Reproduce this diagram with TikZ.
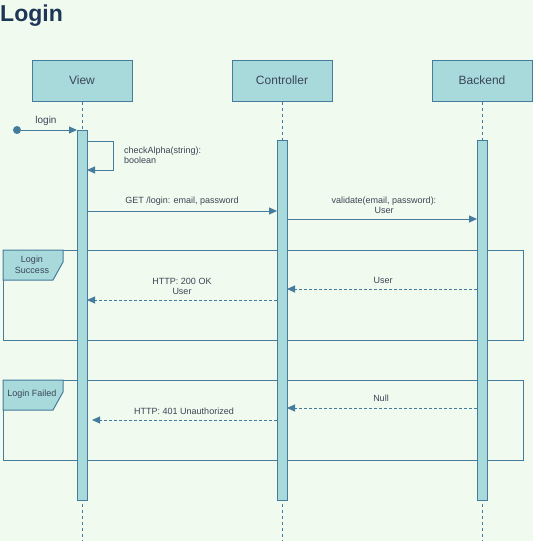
\documentclass[tikz,border=0pt]{standalone}
\usepackage{fontspec}
\setmainfont{Liberation Sans}
\usetikzlibrary{arrows.meta}
\definecolor{bg}{HTML}{F1FAEE}
\definecolor{boxfill}{HTML}{A8DADC}
\definecolor{stroke}{HTML}{457B9D}
\definecolor{titlec}{HTML}{1D3557}
\definecolor{txt}{HTML}{3A4555}
\begin{document}
\begin{tikzpicture}[x=1pt,y=-1pt,
  head/.style={draw=stroke,fill=boxfill,line width=1pt,minimum width=100pt,minimum height=41pt,inner sep=0pt,font=\fontsize{12}{14}\selectfont,text=txt},
  actbar/.style={draw=stroke,fill=boxfill,line width=1pt},
  life/.style={draw=stroke,line width=0.9pt,dash pattern=on 3pt off 3pt},
  msg/.style={draw=stroke,line width=1pt,-{Triangle[length=8pt,width=7pt]}},
  ret/.style={draw=stroke,line width=1pt,dash pattern=on 3pt off 2pt,-{Triangle[length=8pt,width=7pt]}},
  lbl/.style={font=\fontsize{9}{10.5}\selectfont,text=txt,align=center,inner sep=0pt},
  frame/.style={draw=stroke,line width=1pt},
  tab/.style={draw=stroke,fill=boxfill,line width=1pt}]
\fill[bg] (0,0) rectangle (533,541);
\useasboundingbox (0,0) rectangle (533,541);
% title
\node[anchor=west,font=\bfseries\fontsize{23}{25}\selectfont,text=titlec,inner sep=0pt] (title) at (0,15.5) {Login};
% headers
\node[head] (view) at (82,80.5) {View};
\node[head] (ctrl) at (282,80.5) {Controller};
\node[head] (back) at (482,80.5) {Backend};
% lifelines
\coordinate (viewend) at (82,541);
\coordinate (ctrlend) at (282,541);
\coordinate (backend) at (482,541);
\draw[life] (view.south) -- (viewend);
\draw[life] (ctrl.south) -- (ctrlend);
\draw[life] (back.south) -- (backend);
% frames
\draw[frame] (3,250) rectangle (523,340);
\draw[tab] (3,250) -- (63,250) -- (63,262) -- (53,280) -- (3,280) -- cycle;
\node[lbl] (fs) at (32,265) {Login\\Success};
\draw[frame] (3,380) rectangle (523,460);
\draw[tab] (3,380) -- (63,380) -- (63,392) -- (53,410) -- (3,410) -- cycle;
\node[lbl] (ff) at (32,394) {Login Failed};
% activation bars
\draw[actbar] (77,130) rectangle (87,500);
\draw[actbar] (277,140) rectangle (287,500);
\draw[actbar] (477,140) rectangle (487,500);
% login
\node[circle,fill=stroke,inner sep=0pt,minimum size=8pt] (dot) at (17,130) {};
\coordinate (vin) at (77,130);
\draw[msg] (dot) -- (vin);
\node[lbl,font=\fontsize{10}{12}\selectfont] (loginl) at (46,121) {login};
% self call
\coordinate (s1) at (87,141);
\coordinate (s2) at (113,141);
\coordinate (s3) at (113,170);
\coordinate (s4) at (87,170);
\draw[msg] (s1) -- (s2) -- (s3) -- (s4);
\node[lbl,align=left,anchor=west] (chk) at (124,155.5) {checkAlpha(string):\\boolean};
% GET
\coordinate (g1) at (87,211);
\coordinate (g2) at (277,211);
\draw[msg] (g1) -- (g2);
\node[lbl] (getl) at (182,201) {GET /login: email, password};
% validate
\coordinate (v1) at (287,219);
\coordinate (v2) at (477,219);
\draw[msg] (v1) -- (v2);
\node[lbl] (vall) at (384,205.5) {validate(email, password):\\User};
% success returns
\coordinate (u1) at (477,289);
\coordinate (u2) at (287,289);
\draw[ret] (u1) -- (u2);
\node[lbl] (userl) at (383,280) {User};
\coordinate (h1) at (277,300);
\coordinate (h2) at (87,300);
\draw[ret] (h1) -- (h2);
\node[lbl] (okl) at (182,286.5) {HTTP: 200 OK\\User};
% failed returns
\coordinate (n1) at (477,408);
\coordinate (n2) at (287,408);
\draw[ret] (n1) -- (n2);
\node[lbl] (nulll) at (381,398) {Null};
\coordinate (e1) at (277,420);
\coordinate (e2) at (92,420);
\draw[ret] (e1) -- (e2);
\node[lbl] (errl) at (184,411) {HTTP: 401 Unauthorized};
\end{tikzpicture}
\end{document}
